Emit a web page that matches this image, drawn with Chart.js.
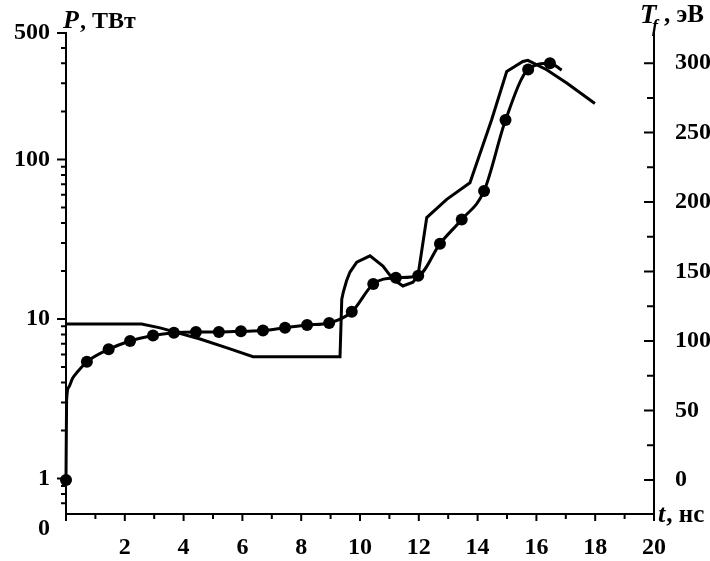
<!DOCTYPE html>
<html><head><meta charset="utf-8">
<script src="https://cdn.jsdelivr.net/npm/chart.js@4.4.1/dist/chart.umd.min.js"></script>
<style>html,body{margin:0;padding:0;background:#fff}#wrap{width:710px;height:561px;position:relative}</style>
</head><body><div id="wrap"><canvas id="c" width="710" height="561"></canvas></div>
<script>
// ---- data ----
// Power P (TW), left logarithmic axis, solid line
const powerTime = [0, 2.57, 3.2, 4.56, 5.58, 6.36, 9.32, 9.38, 9.43, 9.54, 9.66, 9.89, 10.34, 10.78, 11.12, 11.46, 11.8, 11.97, 12.27, 12.95, 13.74, 14.48, 14.99, 15.54, 15.71, 16.35, 17.03, 17.99];
const powerTW   = [9.3, 9.3, 8.8, 7.5, 6.5, 5.8, 5.8, 13.3, 14.7, 17.3, 19.7, 22.7, 24.9, 21.5, 17.8, 16.1, 17.0, 18.6, 43.2, 56.2, 71.5, 178, 356, 411, 418, 365, 301, 224];
// Temperature T_f (eV), right linear axis, line with dots
const tfDotTime  = [0, 0.71, 1.45, 2.18, 2.96, 3.67, 4.42, 5.2, 5.95, 6.7, 7.45, 8.2, 8.95, 9.72, 10.45, 11.22, 11.98, 12.72, 13.46, 14.22, 14.95, 15.72, 16.46];
const tfDotEV    = [0, 85, 94, 100, 104, 106, 106.5, 106.5, 107, 107.5, 109.5, 111.5, 113, 121, 141, 145.5, 147, 170, 187.5, 208, 259, 295.5, 300];
// extra points of the same curve that carry no marker
const tfCurveTime = [0.02, 0.1, 0.22, 0.4, 16.86];
const tfCurveEV   = [57, 67, 73, 78, 295];
// ticks
const xMajorTicks  = [0, 2, 4, 6, 8, 10, 12, 14, 16, 18, 20];
const xMinorTicks  = [1, 3, 5, 7, 9, 11, 13, 15, 17, 19];
const pMajorTicks  = [1, 10, 100];
const pMinorTicks  = [0.7, 0.8, 0.9, 2, 3, 4, 5, 6, 7, 8, 9, 20, 30, 40, 50, 60, 70, 80, 90, 200, 300, 400, 500];
const pEndLabels   = ['0', '500'];
const tfMajorTicks = [0, 50, 100, 150, 200, 250, 300];
const tfMinorTicks = [25, 75, 125, 175, 225, 275];

const SERIF = '"Liberation Serif", "Times New Roman", serif';
const tickFont = {family: SERIF, size: 24, weight: 'bold', lineHeight: 1.2};

const powerData = powerTime.map((t, i) => ({x: t, y: powerTW[i]}));
const tfDots = tfDotTime.map((t, i) => ({x: t, y: tfDotEV[i]}));
const tfCurve = tfDots.concat(tfCurveTime.map((t, i) => ({x: t, y: tfCurveEV[i]}))).sort((a, b) => a.x - b.x);

const decor = {
  id: 'decor',
  afterDraw(chart) {
    const c = chart.ctx, x = chart.scales.x, yP = chart.scales.yP, yT = chart.scales.yT;
    const L = chart.chartArea.left, R = chart.chartArea.right, B = chart.chartArea.bottom;
    c.save();
    c.strokeStyle = '#000'; c.lineWidth = 2; c.lineCap = 'butt';
    c.beginPath();
    xMajorTicks.forEach(v => { const p = x.getPixelForValue(v); c.moveTo(p, B); c.lineTo(p, B + 7); });
    xMinorTicks.forEach(v => { const p = x.getPixelForValue(v); c.moveTo(p, B); c.lineTo(p, B + 5); });
    pMajorTicks.concat([yP.max]).forEach(v => { const p = yP.getPixelForValue(v); c.moveTo(L - 9, p); c.lineTo(L, p); });
    pMinorTicks.forEach(v => { const p = yP.getPixelForValue(v); c.moveTo(L - 5, p); c.lineTo(L, p); });
    tfMajorTicks.forEach(v => { const p = yT.getPixelForValue(v); c.moveTo(R - 10, p); c.lineTo(R, p); });
    tfMinorTicks.forEach(v => { const p = yT.getPixelForValue(v); c.moveTo(R - 7, p); c.lineTo(R, p); });
    c.stroke();
    c.fillStyle = '#000'; c.textBaseline = 'alphabetic'; c.textAlign = 'left';
    // P, ТВт
    c.font = 'italic bold 26px ' + SERIF; c.fillText('P', 63, 28);
    let w = c.measureText('P').width;
    c.font = 'bold 24px ' + SERIF; c.fillText(', ТВт', 63 + w + 1, 28);
    // T_f, эВ
    c.font = 'italic bold 27px ' + SERIF; c.fillText('T', 640, 23);
    c.font = 'italic bold 18px ' + SERIF; c.fillText('f', 652, 32);
    c.font = 'bold 25px ' + SERIF; c.fillText(', эВ', 664, 22);
    // t, нс
    c.font = 'italic bold 26px ' + SERIF; c.fillText('t', 658, 522);
    w = c.measureText('t').width;
    c.font = 'bold 25px ' + SERIF; c.fillText(', нс', 658 + w + 1, 522);
    c.restore();
  }
};

new Chart(document.getElementById('c'), {
  type: 'scatter',
  data: {datasets: [
    {label: 'P', data: powerData, yAxisID: 'yP', showLine: true, borderColor: '#000', borderWidth: 3,
     pointRadius: 0, tension: 0, clip: false},
    {label: 'Tf curve', data: tfCurve, yAxisID: 'yT', showLine: true, borderColor: '#000', borderWidth: 3,
     pointRadius: 0, cubicInterpolationMode: 'monotone', clip: false},
    {label: 'Tf', data: tfDots, yAxisID: 'yT', showLine: false, pointRadius: 6, pointHoverRadius: 6,
     backgroundColor: '#000', borderColor: '#000', borderWidth: 0, clip: false}
  ]},
  options: {
    responsive: false, animation: false, devicePixelRatio: 1,
    layout: {padding: {top: 33, left: 0, right: 0, bottom: 0}},
    plugins: {legend: {display: false}, tooltip: {enabled: false}},
    scales: {
      x: {type: 'linear', position: 'bottom', min: 0, max: 20,
          afterBuildTicks: s => { s.ticks = xMajorTicks.map(v => ({value: v})); },
          afterFit: s => { s.height = 47; },
          ticks: {callback: v => v === 0 ? '' : String(v), font: tickFont, color: '#000', padding: 11,
                  maxRotation: 0, autoSkip: false},
          grid: {display: false}, border: {display: true, color: '#000', width: 2}},
      yP: {type: 'logarithmic', position: 'left', min: 0.613, max: 620,
          afterBuildTicks: s => { s.ticks = [s.min].concat(pMajorTicks, [s.max]).map(v => ({value: v})); },
          afterFit: s => { s.width = 66; },
          ticks: {callback: function (v) {
                    if (Math.abs(v - this.min) < 1e-9) return ['', pEndLabels[0]];
                    if (Math.abs(v - this.max) < 1e-6) return pEndLabels[1];
                    return String(v);
                  }, font: tickFont, color: '#000', padding: 8, autoSkip: false},
          grid: {display: false}, border: {display: true, color: '#000', width: 2}},
      yT: {type: 'linear', position: 'right', min: -24.5, max: 321.7,
          afterBuildTicks: s => { s.ticks = tfMajorTicks.map(v => ({value: v})); },
          afterFit: s => { s.width = 56; },
          ticks: {callback: v => String(v), font: tickFont, color: '#000', padding: 13,
                  autoSkip: false},
          grid: {display: false}, border: {display: true, color: '#000', width: 2}}
    }
  },
  plugins: [decor]
});
</script></body></html>
